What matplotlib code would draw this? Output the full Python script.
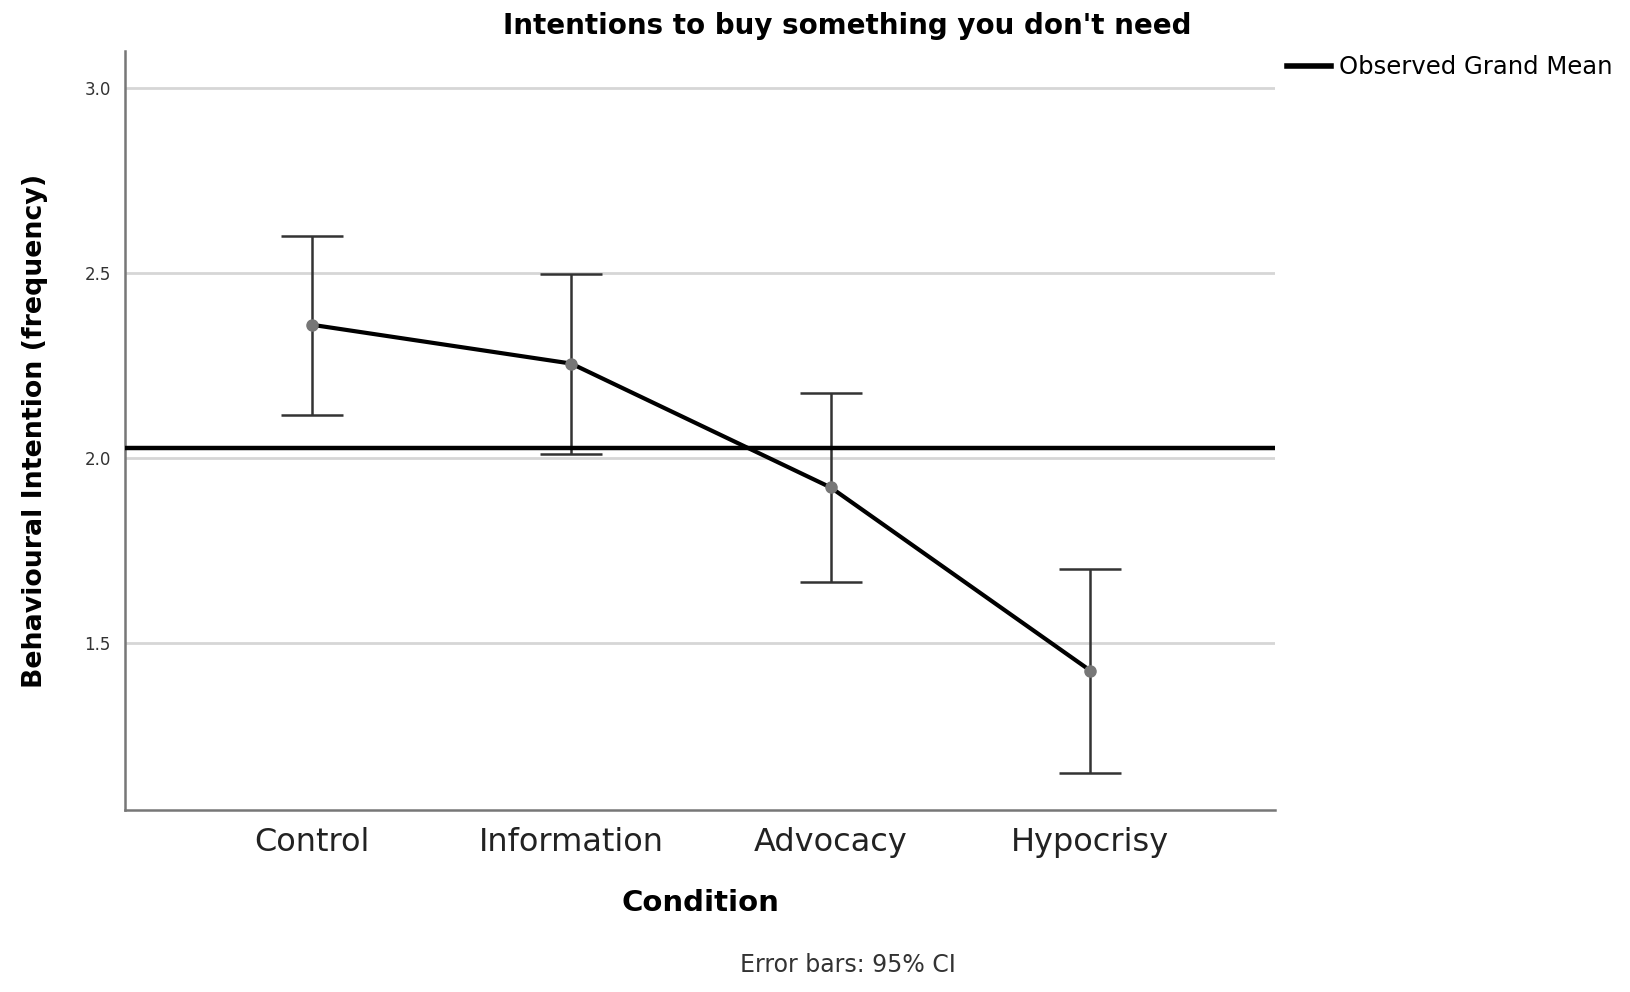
import matplotlib.pyplot as plt
from matplotlib.lines import Line2D

conditions = ['Control', 'Information', 'Advocacy', 'Hypocrisy']
means = [2.36, 2.255, 1.92, 1.425]
ci_low = [2.115, 2.01, 1.665, 1.148]
ci_high = [2.60, 2.497, 2.175, 1.70]
grand_mean = 2.027
yticks = [1.5, 2.0, 2.5, 3.0]

fig = plt.figure(figsize=(16.3, 9.92), dpi=100)
ax = fig.add_axes([0.0765, 0.183, 0.7055, 0.766])

x = list(range(len(conditions)))
err = [[m - lo for m, lo in zip(means, ci_low)],
       [hi - m for m, hi in zip(means, ci_high)]]

for y in yticks:
    ax.axhline(y, color='#d6d6d6', lw=2, zorder=0)

ax.errorbar(x, means, yerr=err, fmt='none', ecolor='#333333',
            elinewidth=1.8, capsize=22, capthick=1.8, zorder=2)
ax.plot(x, means, color='black', lw=3, zorder=3)
ax.plot(x, means, 'o', color='#777777', ms=8, zorder=4)
ax.axhline(grand_mean, color='black', lw=3.2, zorder=3)

ax.set_xlim(-0.72, 3.71)
ax.set_ylim(1.047, 3.101)
ax.set_yticks(yticks)
ax.set_yticklabels(['%.1f' % v for v in yticks], fontsize=12, color='#333333')
ax.set_xticks(x)
ax.set_xticklabels(conditions, fontsize=23, color='#222222')
ax.tick_params(axis='x', length=0, pad=12)
ax.tick_params(axis='y', length=0, pad=10)
for s in ['top', 'right']:
    ax.spines[s].set_visible(False)
for s in ['left', 'bottom']:
    ax.spines[s].set_color('#777777')
    ax.spines[s].set_linewidth(1.8)

ax.set_ylabel('Behavioural Intention (frequency)', fontsize=19.3, fontweight='bold', labelpad=26)
fig.text(0.43, 0.09, 'Condition', fontsize=21, fontweight='bold', ha='center', va='center')
fig.text(0.52, 0.027, 'Error bars: 95% CI', fontsize=17, ha='center', va='center', color='#333333')
fig.text(0.52, 0.974, "Intentions to buy something you don't need", fontsize=20,
         fontweight='bold', ha='center', va='center')

handle = Line2D([], [], color='black', lw=4)
fig.legend([handle], ['Observed Grand Mean'], loc='center left',
           bbox_to_anchor=(0.776, 0.932), frameon=False, fontsize=17.5,
           handlelength=1.8, handletextpad=0.35)

fig.savefig('out.png', dpi=100)
